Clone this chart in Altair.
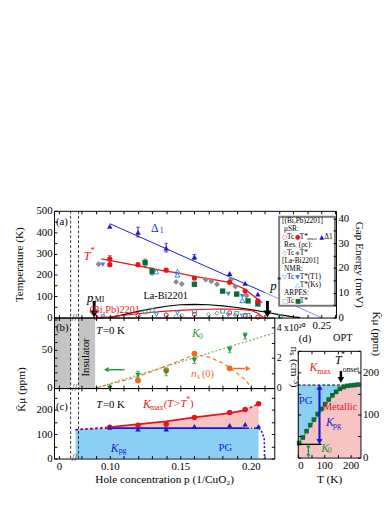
import altair as alt
import pandas as pd

SERIF = "Liberation Serif"
SANS = "DejaVu Sans"
RED = "#e8141c"; BLUE = "#1a1ad0"; LBLUE = "#2f8fdc"; DGREEN = "#0d6b35"; GRAY = "#8a8a8a"
TEAL = "#3f9a86"; GREEN = "#1e9c3c"; LGREEN = "#6cc05a"; ORANGE = "#f06a1e"
PINK = "#f8c3c3"; SKY = "#8ccff5"; INSUL = "#c4c4c4"; LIGHTLINE = "#8c8cf0"

# ---------------- panel (a) data ----------------
a_musr_tstar_p = [0.100, 0.100, 0.120, 0.140, 0.160, 0.185, 0.196, 0.205]
a_musr_tstar_T = [275, 248, 248, 222, 185, 165, 124, 78]
a_tstar_line_p = [0.094, 0.122, 0.140, 0.147, 0.160, 0.185, 0.196, 0.208]
a_tstar_line_T = [275, 240, 217, 211, 193, 165, 133, 69]
a_gap_p = [0.100, 0.120, 0.140, 0.160, 0.185, 0.196, 0.205]
a_gap_meV = [36.8, 34.4, 28.0, 24.5, 17.8, 13.8, 9.5]
a_gap_err_p = [0.120, 0.140, 0.160]
a_gap_err_lo = [32.5, 26.5, 23.5]
a_gap_err_hi = [36.5, 30.0, 25.5]
a_gap_line_p = [0.100, 0.210]
a_gap_line_meV = [37.9, 10.1]
a_gap_ext_p = [0.210, 0.250]
a_gap_ext_meV = [10.1, 0.0]
a_res_tstar_p = [0.092, 0.147, 0.151, 0.168, 0.172, 0.176, 0.186, 0.189, 0.197]
a_res_tstar_T = [250, 167, 157, 178, 170, 156, 180, 145, 102]
a_arpes_tstar_p = [0.125, 0.130, 0.160, 0.180, 0.190, 0.198, 0.205]
a_arpes_tstar_T = [257, 216, 156, 124, 110, 78, 64]
a_arpes_err_p = [0.125, 0.130]
a_arpes_err_lo = [240, 200]
a_arpes_err_hi = [274, 232]
a_nmr_t1_p = [0.095, 0.184, 0.194]
a_nmr_t1_T = [248, 110, 100]
a_nmr_ks_p = [0.133, 0.148, 0.148, 0.194]
a_nmr_ks_T = [215, 216, 200, 80]
a_la_dome_p = [0.10, 0.11, 0.12, 0.13, 0.14, 0.15, 0.16, 0.17, 0.18, 0.19, 0.20, 0.21, 0.22, 0.23, 0.235]
a_la_dome_T = [0, 14, 29, 42, 53, 60, 62, 60, 55, 47, 37, 26, 14, 3, 0]
a_bp_dome_p = [0.09, 0.10, 0.11, 0.12, 0.13, 0.14, 0.15, 0.16, 0.17, 0.18, 0.19, 0.20, 0.205, 0.209]
a_bp_dome_T = [0, 4, 11, 18, 25, 30, 34, 37, 39, 40, 39, 34, 20, 0]
a_musr_tc_p = [0.090, 0.120, 0.140, 0.160, 0.185, 0.196, 0.205]
a_musr_tc_T = [2, 10, 12, 15, 22, 10, 2]
a_res_tc_p = [0.147, 0.151, 0.170, 0.176, 0.189]
a_res_tc_T = [6, 10, 14, 20, 12]
a_nmr_tc_p = [0.095, 0.133, 0.148, 0.184, 0.194]
a_nmr_tc_T = [4, 14, 22, 12, 8]
a_arpes_tc_p = [0.125, 0.130, 0.160, 0.180, 0.190, 0.198, 0.221]
a_arpes_tc_T = [27, 34, 30, 30, 20, 10, 6]

# ---------------- panel (b) data ----------------
b_k0_p = [0.100, 0.120, 0.140, 0.160, 0.185, 0.196]
b_k0_K = [0, 17, 21, 36, 50, 68]
b_k0_lo = [0, 12, 16, 32, 46, 64]
b_k0_hi = [3, 22, 26, 40, 54, 72]
b_k0_fit_p = [0.090, 0.2167]
b_k0_fit_K = [0, 72]
b_ns_p = [0.120, 0.140, 0.160, 0.185]
b_ns = [0.50, 1.16, 2.26, 1.30]
b_ns_curve_p = [0.090, 0.120, 0.140, 0.160, 0.170, 0.180, 0.185, 0.190, 0.196, 0.2007]
b_ns_curve = [0.0, 0.75, 1.45, 2.20, 2.05, 1.65, 1.35, 1.00, 0.55, 0.0]

# ---------------- panel (c) data ----------------
c_kmax_p = [0.100, 0.120, 0.140, 0.160, 0.185, 0.196, 0.2055]
c_kmax_K = [128, 136, 140, 168, 188, 200, 224]
c_kpg_p = [0.100, 0.120, 0.140, 0.160, 0.185, 0.196, 0.2055]
c_kpg_K = [128, 120, 120, 132, 136, 140, 132]
c_kmax_line_p = [0.100, 0.140, 0.160, 0.185, 0.196]
c_kmax_line_K = [128, 152, 168, 186, 198]
c_kmax_dash1_p = [0.0757, 0.100]
c_kmax_dash1_K = [118, 128]
c_kmax_dash2_p = [0.196, 0.2055]
c_kmax_dash2_K = [198, 224]
c_kpg_level = 124
c_fill_p = [0.0757, 0.100, 0.140, 0.160, 0.185, 0.196, 0.2055]
c_fill_kmax = [118, 128, 152, 168, 186, 198, 224]
c_fill_kpg = [118, 124, 124, 124, 124, 124, 124]
c_kpg_drop_p = [0.2055, 0.2080, 0.2095, 0.2097, 0.2097]
c_kpg_drop_K = [124, 108, 80, 40, 0]

# ---------------- panel (d) data ----------------
d_T = [5, 19, 33, 47, 61, 75, 89, 103, 117, 131, 145, 159, 173, 187, 201, 215, 229]
d_K = [34, 47, 62, 76, 89, 102, 114, 125, 136, 146, 154, 161, 165, 168, 169, 170, 171]
d_fit_T = [0, 20, 40, 60, 80, 100, 120, 140, 160, 180, 200, 220, 237]
d_fit_K = [30, 48, 66, 84, 101, 118, 134, 149, 160, 166, 169, 170, 171]
d_kmax_level = 170
d_k0_level = 31

# ---------------- layout (pixels inside the plot area) ----------------
W, H = 313, 253
P0 = 0.060417
PA_MAX = 0.260417
PBC_MAX = 0.216667
P_ZERO = 0.0639
SC = {
    "a": ([P0, PA_MAX], [0, 288], [0, 500], [109, 0]),
    "aE": ([P0, PA_MAX], [0, 288], [0, 43.09], [109, 0]),
    "b": ([P0, PBC_MAX], [0, 225], [0, 92], [181, 109]),
    "bN": ([P0, PBC_MAX], [0, 225], [0, 4.65], [181, 109]),
    "c": ([P0, PBC_MAX], [0, 225], [0, 288], [253, 181]),
    "d": ([0, 237], [249, 313], [0, 250], [252, 143]),
    "f": ([P0, PA_MAX], [0, 288], [0, 253], [253, 0]),
    "bc": ([P0, PBC_MAX], [0, 225], [0, 1], [253, 109]),
}


def xy(panel, x="x", y="y", x2=None, y2=None, xaxis=None, yaxis=None):
    d, r, yd, yr = SC[panel]
    enc = {
        "x": alt.X(f"{x}:Q", scale=alt.Scale(domain=d, range=r, nice=False, zero=False), axis=xaxis),
        "y": alt.Y(f"{y}:Q", scale=alt.Scale(domain=yd, range=yr, nice=False, zero=False), axis=yaxis),
    }
    if x2:
        enc["x2"] = alt.X2(f"{x2}:Q")
    if y2:
        enc["y2"] = alt.Y2(f"{y2}:Q")
    return enc


def pts(panel, xs, ys, shape, color, filled=True, size=26, sw=1.0):
    df = pd.DataFrame({"x": xs, "y": ys})
    return alt.Chart(df).mark_point(shape=shape, filled=filled, color=color, size=size,
                                    opacity=1, strokeWidth=sw).encode(**xy(panel))


def line(panel, xs, ys, color, width=1.2, dash=None):
    df = pd.DataFrame({"x": xs, "y": ys, "i": list(range(len(xs)))})
    kw = dict(color=color, strokeWidth=width)
    if dash:
        kw["strokeDash"] = dash
    return alt.Chart(df).mark_line(**kw).encode(order=alt.Order("i:Q"), **xy(panel))


def area(panel, xs, lo, hi, color):
    df = pd.DataFrame({"x": xs, "lo": lo, "hi": hi})
    return alt.Chart(df).mark_area(color=color, opacity=1).encode(**xy(panel, y="lo", y2="hi"))


def rect(panel, x1, x2, y1, y2, fill, stroke=None, sw=0):
    df = pd.DataFrame({"x": x1, "x2": x2, "y": y1, "y2": y2})
    kw = dict(color=fill, opacity=1)
    if stroke:
        kw.update(stroke=stroke, strokeWidth=sw)
    return alt.Chart(df).mark_rect(**kw).encode(**xy(panel, x2="x2", y2="y2"))


def seg(panel, x1, y1, x2, y2, color, width=1.0, dash=None):
    df = pd.DataFrame({"x": x1, "y": y1, "x2": x2, "y2": y2})
    kw = dict(color=color, strokeWidth=width)
    if dash:
        kw["strokeDash"] = dash
    return alt.Chart(df).mark_rule(**kw).encode(**xy(panel, x2="x2", y2="y2"))


def errbars(panel, xs, lo, hi, color):
    df = pd.DataFrame({"x": xs, "y": lo, "y2": hi})
    r = alt.Chart(df).mark_rule(color=color, strokeWidth=1).encode(**xy(panel, y2="y2"))
    c1 = alt.Chart(df).mark_tick(orient="horizontal", color=color, size=4, thickness=1).encode(**xy(panel))
    c2 = alt.Chart(df).mark_tick(orient="horizontal", color=color, size=4, thickness=1).encode(**xy(panel, y="y2"))
    return [r, c1, c2]


def texts(panel, rows, italic=False, align="center", baseline="middle", angle=0, font=SERIF):
    df = pd.DataFrame(rows, columns=["x", "y", "t", "c", "s"])
    kw = dict(align=align, baseline=baseline, font=font)
    if italic:
        kw["fontStyle"] = "italic"
    if angle:
        kw["angle"] = angle
    return alt.Chart(df).mark_text(**kw).encode(
        text="t:N", color=alt.Color("c:N", scale=None), size=alt.Size("s:Q", scale=None), **xy(panel))


def ax(panel, ch, orient, pix, values, labels=False, ticks=True, domain=True, title=None,
       tick_size=3, color="black", width=1.0, **extra):
    if orient == "left":
        off = -pix
    elif orient == "right":
        off = pix - W
    elif orient == "top":
        off = -pix
    else:
        off = pix - H
    kw = dict(orient=orient, offset=off, values=values, labels=labels, ticks=ticks, domain=domain,
              grid=False, title=title, tickSize=tick_size, domainColor=color, tickColor=color,
              domainWidth=width, tickWidth=1, zindex=2, labelPadding=2)
    kw.update(extra)
    d, r, yd, yr = SC[panel]
    df = pd.DataFrame({"x": [d[0]], "y": [yd[0]]})
    a = alt.Axis(**kw)
    enc = xy(panel, xaxis=a) if ch == "x" else xy(panel, yaxis=a)
    return alt.Chart(df).mark_point(opacity=0).encode(**enc)


p_ticks_all = [P_ZERO] + [round(0.08 + 0.01 * i, 2) for i in range(19)]
p_ticks_a = [v for v in p_ticks_all if v <= PA_MAX]
p_ticks_bc = [v for v in p_ticks_all if v <= PBC_MAX]

layers = []

# ---------- fills ----------
layers.append(rect("b", [P0, 0.0778], [0.0722, 0.0896], [0, 0], [92, 92], INSUL))
layers.append(area("c", c_fill_p, [0] * len(c_fill_p), c_fill_kpg, SKY))
layers.append(area("c", c_fill_p, c_fill_kpg, c_fill_kmax, PINK))
layers.append(area("d", d_fit_T, [0] * len(d_fit_T), d_fit_K, PINK))
d_blue_T = [t for t in d_fit_T if t <= 210]
d_blue_K = [k for t, k in zip(d_fit_T, d_fit_K) if t <= 210]
layers.append(area("d", d_blue_T, d_blue_K, [d_kmax_level] * len(d_blue_T), SKY))

# ---------- frame dashed lines ----------
layers.append(seg("f", [0.0722, 0.0778], [0, 0], [0.0722, 0.0778], [253, 253], "black", 0.8, [3, 2]))

# ---------- panel (a) ----------
layers.append(line("a", a_la_dome_p, a_la_dome_T, "black", 1.2))
layers.append(line("a", a_bp_dome_p, a_bp_dome_T, RED, 1.2))
layers.append(line("a", a_tstar_line_p, a_tstar_line_T, RED, 1.3))
layers.append(line("aE", a_gap_line_p, a_gap_line_meV, BLUE, 1.0))
layers.append(line("aE", a_gap_ext_p, a_gap_ext_meV, LIGHTLINE, 1.0))
layers += errbars("aE", a_gap_err_p, a_gap_err_lo, a_gap_err_hi, BLUE)
layers += errbars("a", a_arpes_err_p, a_arpes_err_lo, a_arpes_err_hi, DGREEN)
layers += errbars("a", [0.100], [262], [290], RED)
layers.append(pts("a", a_musr_tc_p, a_musr_tc_T, "circle", RED, False, 18))
layers.append(pts("a", a_res_tc_p, a_res_tc_T, "diamond", GRAY, False, 18))
layers.append(pts("a", a_nmr_tc_p, a_nmr_tc_T, "triangle-down", LBLUE, False, 18))
layers.append(pts("a", a_arpes_tc_p, a_arpes_tc_T, "square", TEAL, False, 16))
layers.append(pts("a", a_res_tstar_p, a_res_tstar_T, "diamond", GRAY, True, 36))
layers.append(pts("a", a_arpes_tstar_p, a_arpes_tstar_T, "square", DGREEN, True, 30))
layers.append(pts("a", a_nmr_ks_p, a_nmr_ks_T, "triangle-up", LBLUE, False, 26))
layers.append(pts("a", a_nmr_t1_p, a_nmr_t1_T, "triangle-down", LBLUE, True, 28))
layers.append(pts("a", a_musr_tstar_p, a_musr_tstar_T, "circle", RED, True, 28))
layers.append(pts("aE", a_gap_p, a_gap_meV, "triangle-up", BLUE, True, 32))
# arrows p_MI and p*
layers.append(seg("a", [0.0889, 0.2118], [78, 78], [0.0889, 0.2118], [26, 26], "black", 3))
layers.append(pts("a", [0.0889, 0.2118], [17, 17], "triangle-down", "black", True, 70))
# legend box
layers.append(rect("a", [0.2201], [0.2597], [55], [472], "white", "#7a7a7a", 2))
legend_rows = [
    (0.2222, 454, "[(Bi,Pb)2201]", "black", 7.5),
    (0.2236, 416.5, "μSR:", "black", 7.5),
    (0.2257, 379, "Tc", "black", 7.5),
    (0.2347, 379, "T*", "black", 7.5),
    (0.2236, 341, "Res. (ρc):", "black", 7.5),
    (0.2257, 304, "Tc", "black", 7.5),
    (0.2347, 304, "T*", "black", 7.5),
    (0.2222, 266, "[La-Bi2201]", "black", 7.5),
    (0.2236, 229, "NMR:", "black", 7.5),
    (0.2257, 191, "Tc", "black", 7.5),
    (0.2347, 191, "T*(T1)", "black", 7.5),
    (0.2347, 153, "T*(Ks)", "black", 7.5),
    (0.2236, 116, "ARPES:", "black", 7.5),
    (0.2257, 78, "Tc", "black", 7.5),
    (0.2347, 78, "T*", "black", 7.5),
    (0.2398, 370, "onset", "black", 4.8),
    (0.2521, 379, "Δ1", "black", 7.5),
]
legend_syms = [
    (0.2222, 379, "○", RED, 6.5), (0.2313, 379, "●", RED, 6.5), (0.2486, 379, "▲", BLUE, 6.5),
    (0.2222, 304, "◇", GRAY, 6.5), (0.2313, 304, "◆", GRAY, 6.5),
    (0.2222, 191, "▽", LBLUE, 6.5), (0.2313, 191, "▼", LBLUE, 6.5),
    (0.2313, 153, "△", LBLUE, 6.5),
    (0.2222, 78, "□", TEAL, 6.5), (0.2313, 78, "■", DGREEN, 6.5),
]
layers.append(texts("a", legend_rows, align="left"))
layers.append(texts("a", legend_syms, align="left", font=SANS))
layers.append(texts("a", [(0.0618, 449, "(a)", "black", 11)], align="left"))
layers.append(texts("a", [(0.1035, 35, "(Bi,Pb)2201", RED, 10.5), (0.1396, 101, "La-Bi2201", "black", 10.5),
                          (0.0878, 317, "*", RED, 9), (0.1368, 404, "1", BLUE, 8),
                          (0.0927, 80, "MI", "black", 8), (0.2201, 174, "*", "black", 9),
                          (0.1319, 417, "Δ", BLUE, 12)]))
layers.append(texts("a", [(0.0840, 289, "T", RED, 12.5), (0.0861, 93, "p", "black", 13),
                          (0.2160, 147, "p", "black", 13)], italic=True))

# ---------- panel (b) ----------
layers.append(line("b", b_k0_fit_p, b_k0_fit_K, LGREEN, 1.3, [2, 2]))
layers.append(line("bN", b_ns_curve_p, b_ns_curve, ORANGE, 1.1, [4, 3]))
layers += errbars("b", b_k0_p, b_k0_lo, b_k0_hi, GREEN)
layers.append(pts("bN", b_ns_p, b_ns, "circle", ORANGE, True, 36))
layers.append(pts("b", b_k0_p, b_k0_K, "triangle-down", GREEN, True, 32))
layers.append(seg("b", [0.1104], [24], [0.0990], [24], GREEN, 1.5))
layers.append(pts("b", [0.0975], [24], "triangle-left", GREEN, True, 30))
layers.append(seg("bN", [0.1875], [1.29], [0.1958], [1.29], ORANGE, 1.5))
layers.append(pts("bN", [0.1980], [1.29], "triangle-right", ORANGE, True, 30))
layers.append(texts("b", [(0.0618, 78, "(b)", "black", 11), (0.0951, 74, "=0 K", "black", 11),
                          (0.1632, 67, "0", GREEN, 8), (0.1618, 14, "s", ORANGE, 8),
                          (0.1653, 17.9, "(0)", ORANGE, 10.5)], align="left"))
layers.append(texts("b", [(0.0903, 74, "T", "black", 11), (0.1583, 71.6, "K", GREEN, 12),
                          (0.1576, 17.9, "n", ORANGE, 11.5)], italic=True, align="left"))
layers.append(texts("b", [(0.0833, 40, "Insulator", "black", 11)], angle=270))

# ---------- panel (c) ----------
layers.append(line("c", c_kmax_line_p, c_kmax_line_K, RED, 1.8))
layers.append(line("c", c_kmax_dash1_p, c_kmax_dash1_K, RED, 1.6, [3, 2]))
layers.append(line("c", c_kmax_dash2_p, c_kmax_dash2_K, RED, 1.6, [3, 2]))
layers.append(line("c", [0.0757, 0.100], [118, c_kpg_level], BLUE, 1.4, [2, 3]))
layers.append(line("c", [0.100, 0.196], [c_kpg_level, c_kpg_level], BLUE, 1.8))
layers.append(line("c", [0.196, 0.2055], [c_kpg_level, c_kpg_level], BLUE, 1.6, [4, 2, 1, 2]))
layers.append(line("c", c_kpg_drop_p, c_kpg_drop_K, BLUE, 1.6, [2, 2]))
layers.append(pts("c", c_kmax_p, c_kmax_K, "circle", RED, True, 32))
layers.append(pts("c", c_kpg_p, c_kpg_K, "triangle-up", BLUE, True, 30))
layers.append(texts("c", [(0.0618, 212, "(c)", "black", 11), (0.0951, 220, "=0 K", "black", 11),
                          (0.1285, 208, "max", RED, 8), (0.1542, 240, "*", RED, 8),
                          (0.1569, 224, ")", RED, 11), (0.1063, 32, "pg", BLUE, 8)], align="left"))
layers.append(texts("c", [(0.0903, 220, "T", "black", 11), (0.1236, 224, "K", RED, 12),
                          (0.1382, 224, "(T>T", RED, 11), (0.1007, 44, "K", BLUE, 12)],
                    italic=True, align="left"))
layers.append(texts("c", [(0.1819, 44, "PG", BLUE, 11)]))

# ---------- panel (d) ----------
layers.append(line("d", [0, 237], [d_kmax_level, d_kmax_level], "black", 1.0, [3, 2]))
layers.append(line("d", d_fit_T, d_fit_K, GREEN, 1.0))
layers.append(pts("d", d_T, d_K, "square", DGREEN, True, 22))
layers.append(line("d", [0, 90], [d_k0_level, d_k0_level], "black", 1.3))
layers.append(seg("d", [82], [40], [82], [162], BLUE, 2.2))
layers.append(pts("d", [82], [165], "triangle-up", BLUE, True, 40))
layers.append(pts("d", [82], [37], "triangle-down", BLUE, True, 40))
layers.append(seg("d", [40], [6], [40], [26], GREEN, 1.5))
layers.append(pts("d", [40], [28], "triangle-up", GREEN, True, 18))
layers.append(pts("d", [40], [4], "triangle-down", GREEN, True, 18))
layers.append(seg("d", [163], [203], [163], [187], "black", 2.5))
layers.append(pts("d", [163], [182], "triangle-down", "black", True, 45))
layers.append(texts("d", [(3.7, 277, "(d)", "black", 11), (74, 201, "max", RED, 8),
                          (163, 241, "*", "black", 8), (170, 206, "onset", "black", 8),
                          (133, 73, "pg", BLUE, 8), (113, 15, "0", GREEN, 8)], align="left"))
layers.append(texts("d", [(170, 280, "OPT", "black", 10.5), (30, 133, "PG", BLUE, 11),
                          (160, 119, "Metallic", RED, 10.5)]))
layers.append(texts("d", [(44, 211, "K", RED, 12), (141, 229, "T", "black", 12),
                          (107, 83, "K", BLUE, 12), (89, 23, "K", GREEN, 12)], italic=True, align="left"))

# ---------- axis break marks ----------
layers.append(texts("f", [(0.0750, 144, "//", "black", 10), (0.0750, 72, "//", "black", 10),
                          (0.0750, 0, "//", "black", 10)]))

# ---------- axes ----------
# panel (a)
layers.append(ax("a", "y", "left", 0, [0, 100, 200, 300, 400, 500], labels=True, ticks=False, domain=False,
                 title="Temperature (K)", titleX=-35, titleY=54.5, titleAngle=270,
                 titleAlign="center", titleBaseline="middle"))
layers.append(ax("a", "y", "right", 0, list(range(0, 501, 50))))
layers.append(ax("aE", "y", "left", 288, list(range(0, 41, 5))))
layers.append(ax("aE", "y", "right", 288, [0, 10, 20, 30, 40], labels=True, ticks=False, domain=False,
                 title="Gap Energy (meV)", titleX=23, titleY=54.5, titleAngle=90,
                 titleAlign="center", titleBaseline="middle"))
layers.append(ax("a", "x", "bottom", 0, p_ticks_a))
layers.append(ax("a", "x", "top", 109, p_ticks_a))
layers.append(ax("a", "x", "bottom", 109, [0.25], labels=True, ticks=False, domain=False, format=".2f"))
# panel (b)
layers.append(ax("b", "y", "left", 0, [0, 50], labels=True, ticks=False, domain=False))
layers.append(ax("b", "y", "right", 0, list(range(0, 91, 10))))
layers.append(ax("bN", "y", "left", 225, [0, 1, 2, 3, 4]))
layers.append(ax("bN", "y", "right", 225, [0, 2, 4], labels=True, ticks=False, domain=False,
                 labelExpr="datum.value == 4 ? '4 x10²⁰' : datum.label", labelFontSize=10,
                 title="nₛ (cm⁻³)", titleX=20, titleY=159, titleAngle=90,
                 titleAlign="center", titleBaseline="middle"))
layers.append(ax("b", "x", "bottom", 109, p_ticks_bc))
layers.append(ax("b", "x", "top", 181, p_ticks_bc))
# panel (c)
layers.append(ax("c", "y", "left", 0, [0, 100, 200], labels=True, ticks=False, domain=False))
layers.append(ax("c", "y", "right", 0, list(range(0, 281, 50))))
layers.append(ax("c", "y", "left", 225, list(range(0, 281, 50))))
layers.append(ax("c", "x", "bottom", 181, p_ticks_bc))
layers.append(ax("c", "x", "top", 253, p_ticks_bc))
layers.append(ax("c", "x", "bottom", 253, [P_ZERO, 0.10, 0.15, 0.20], labels=True, ticks=False, domain=False,
                 labelExpr="datum.value < 0.07 ? '0' : format(datum.value, '.2f')",
                 title="Hole concentration p (1/CuO₂)", titleY=21, titleBaseline="middle"))
layers.append(ax("bc", "y", "left", 0, [], labels=False, ticks=False, domain=False,
                 title="K̄μ (ppm)", titleX=-33, titleY=182, titleAngle=270,
                 titleAlign="center", titleBaseline="middle"))
# panel (d)
layers.append(ax("d", "y", "right", 249, list(range(0, 251, 50))))
layers.append(ax("d", "y", "left", 313, list(range(0, 251, 50))))
layers.append(ax("d", "y", "right", 313, [0, 100, 200], labels=True, ticks=False, domain=False,
                 title="K̄μ (ppm)", titleX=15, titleY=125, titleAngle=90,
                 titleAlign="center", titleBaseline="middle"))
layers.append(ax("d", "x", "bottom", 143, [0, 50, 100, 150, 200]))
layers.append(ax("d", "x", "top", 252, [0, 50, 100, 150, 200]))
layers.append(ax("d", "x", "bottom", 252, [0, 100, 200], labels=True, ticks=False, domain=False,
                 title="T (K)", titleY=22, titleBaseline="middle"))

chart = alt.layer(*layers).resolve_scale(x="independent", y="independent").resolve_axis(
    x="independent", y="independent").properties(
    width=W, height=H, autosize=alt.AutoSizeParams(type="none"),
    padding={"left": 47, "top": 202, "right": 22, "bottom": 30},
).configure_view(stroke=None).configure_axis(
    labelFont=SERIF, titleFont=SERIF, labelFontSize=11, titleFontSize=11.5,
    titleFontWeight="normal", labelColor="black", titleColor="black")

chart.save("out.html", embed_options={"renderer": "svg", "actions": False})
